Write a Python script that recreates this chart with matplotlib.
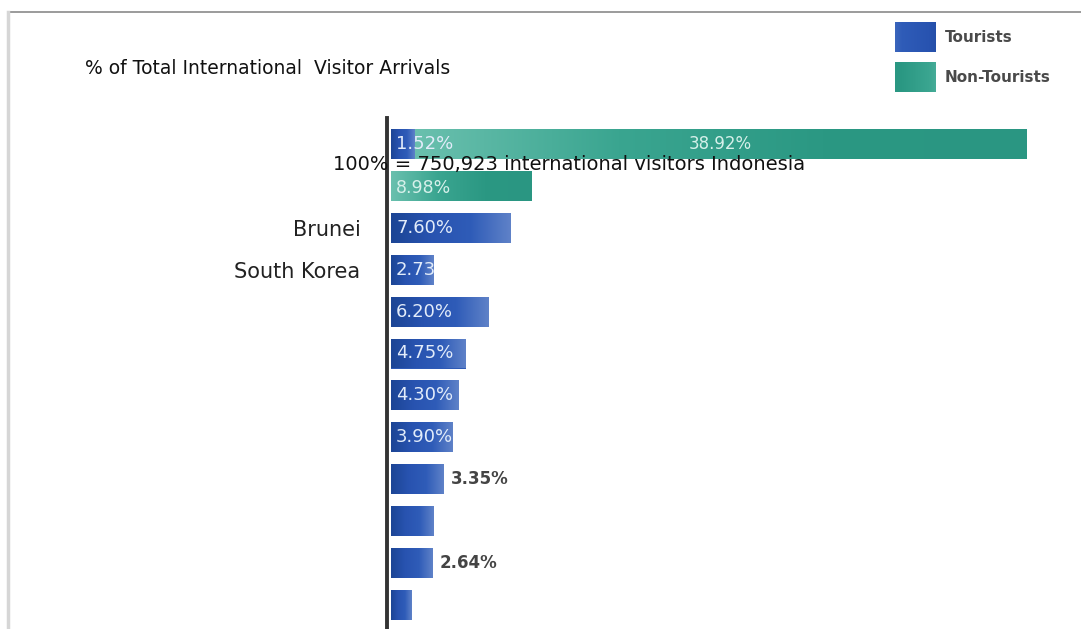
import matplotlib
matplotlib.use('agg')
import matplotlib.pyplot as plt
from matplotlib.colors import LinearSegmentedColormap
from matplotlib.lines import Line2D
import numpy as np

# Data (% of total international visitor arrivals)
categories = ['', '', 'Brunei', 'South Korea', '', '', '', '', '', '', '', '']
tourists = [1.52, 0.0, 7.60, 2.73, 6.20, 4.75, 4.30, 3.90, 3.35, 2.70, 2.64, 1.30]
non_tourists = [38.92, 8.98, 0, 0, 0, 0, 0, 0, 0, 0, 0, 0]
tourist_labels = ['1.52%', '', '7.60%', '2.73%', '6.20%', '4.75%', '4.30%', '3.90%',
                  '3.35%', '', '2.64%', '']
non_tourist_labels = ['38.92%', '8.98%', '', '', '', '', '', '', '', '', '', '']
outside_labels = ['3.35%', '2.64%']  # these sit to the right of the bar

W, H = 1081, 629
BLUE = ['#1c4595', '#2853b0', '#2f5cb8', '#5f82c8']
TEAL = ['#6ac0ae', '#3aa590', '#2b9883', '#2a9682']

blue_cmap = LinearSegmentedColormap.from_list('blue', BLUE)
teal_cmap = LinearSegmentedColormap.from_list('teal', TEAL)
grad = np.linspace(0, 1, 256).reshape(1, -1)

fig = plt.figure(figsize=(W / 100, H / 100), dpi=100)

# page frame of the screenshot
fig.add_artist(Line2D([8 / W, 1], [1 - 12 / H, 1 - 12 / H], color='#8a8a8a', lw=1.2))
fig.add_artist(Line2D([8 / W, 8 / W], [0, 1 - 12 / H], color='#d6d6d6', lw=2.5))

# axes: left spine is the dark vertical bar, 15.7 px per percent
px_per_pct = 15.7
ax_left, ax_top = 387, 118
ax = fig.add_axes([ax_left / W, 0, 1 - ax_left / W, 1 - ax_top / H])
x0 = -4 / px_per_pct
ax.set_xlim(x0, x0 + (W - ax_left) / px_per_pct)
row_px = 41.9
ax.set_ylim((H - 144) / row_px, -(144 - ax_top) / row_px)
ax.patch.set_alpha(0)

bar_h = 30 / row_px
y = np.arange(len(categories))


def gradient_bar(left, width, yc, cmap):
    bars = ax.barh(yc, width, left=left, height=bar_h, color=cmap(0.6), lw=0, zorder=2)
    patch = bars[0]
    im = ax.imshow(grad, extent=[left, left + width, yc + bar_h / 2, yc - bar_h / 2],
                   cmap=cmap, aspect='auto', zorder=3, interpolation='bilinear')
    im.set_clip_path(patch)
    return patch


for i in range(len(categories)):
    t_patch = None
    if tourists[i] > 0:
        t_patch = gradient_bar(0, tourists[i], y[i], blue_cmap)
    if non_tourists[i] > 0:
        gradient_bar(tourists[i], non_tourists[i], y[i], teal_cmap)
        lab = non_tourist_labels[i]
        if tourists[i] > 0:
            ax.text(tourists[i] + non_tourists[i] / 2, y[i], lab, ha='center', va='center',
                    color='#d6f0ea', fontsize=12, zorder=5)
        else:
            ax.text(5 / px_per_pct, y[i] + 0.05, lab, ha='left', va='center',
                    color='#d6f0ea', fontsize=12.5, zorder=5)
    lab = tourist_labels[i]
    if lab and lab in outside_labels:
        ax.text(tourists[i] + 7 / px_per_pct, y[i], lab, ha='left', va='center',
                color='#444444', fontsize=12, fontweight='bold', zorder=5)
    elif lab:
        t = ax.text(5 / px_per_pct, y[i], lab, ha='left', va='center',
                    color='#e2ecfa', fontsize=13, zorder=5)
        if non_tourists[i] == 0 and t_patch is not None:
            t.set_clip_on(True)
            t.set_clip_path(t_patch)

ax.set_yticks(y)
ax.set_yticklabels(categories, fontsize=15, color='#222222')
ax.tick_params(axis='y', length=0, pad=19)
ax.set_xticks([])
for s in ['top', 'right', 'bottom']:
    ax.spines[s].set_visible(False)
ax.spines['left'].set_color('#333333')
ax.spines['left'].set_linewidth(2.8)
ax.spines['left'].set_zorder(6)

# title and note
fig.text(85 / W, 1 - 68 / H, '% of Total International  Visitor Arrivals',
         fontsize=13.5, color='#111111', va='center', ha='left')
fig.text(333 / W, 1 - 165 / H, '100% = 750,923 international visitors Indonesia',
         fontsize=14, color='#111111', va='center', ha='left', zorder=10)

# legend swatches
for k, (cm, name) in enumerate([(blue_cmap, 'Tourists'), (teal_cmap, 'Non-Tourists')]):
    top = 22 + 40 * k
    sw = fig.add_axes([895 / W, 1 - (top + 30) / H, 40 / W, 30 / H])
    sw.imshow(np.linspace(0, 1, 64).reshape(1, -1)[:, ::-1] * 0.5 + 0.25, cmap=cm,
              aspect='auto', vmin=0, vmax=1)
    sw.axis('off')
    fig.text(945 / W, 1 - (top + 16) / H, name, fontsize=11, fontweight='bold',
             color='#4a4a4a', va='center', ha='left')

fig.savefig('out.png', dpi=100)
